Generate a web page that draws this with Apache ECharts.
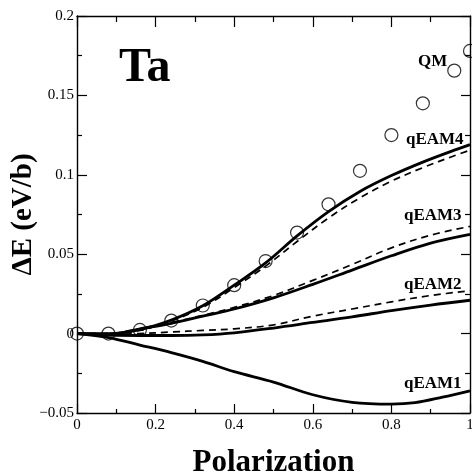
<!DOCTYPE html>
<html><head><meta charset="utf-8">
<script src="https://cdn.jsdelivr.net/npm/echarts@6/dist/echarts.min.js"></script>
<style>html,body{margin:0;padding:0;background:#fff}#c{width:472px;height:472px}</style>
</head><body><div id="c"></div>
<script>
var qmX = [0, 0.08, 0.16, 0.24, 0.32, 0.40, 0.48, 0.56, 0.64, 0.72, 0.80, 0.88, 0.96, 1.0];
var qmY = [0, 0, 0.0023, 0.0082, 0.0177, 0.0305, 0.0457, 0.0636, 0.0814, 0.1025, 0.125, 0.145, 0.1656, 0.178];

var xs4 = [0, 0.08, 0.16, 0.24, 0.32, 0.40, 0.48, 0.56, 0.64, 0.72, 0.80, 0.88, 0.96, 1.0];
var eam4Solid = [0, 0, 0.0025, 0.0085, 0.0175, 0.0305, 0.0445, 0.0615, 0.0768, 0.0895, 0.0995, 0.108, 0.1155, 0.119];
var eam4Dash  = [0, 0, 0.0020, 0.0080, 0.0165, 0.0290, 0.0425, 0.0580, 0.0728, 0.0855, 0.0960, 0.1045, 0.112, 0.1155];

var xs = [0, 0.08, 0.16, 0.24, 0.32, 0.40, 0.50, 0.60, 0.70, 0.80, 0.90, 1.0];
var eam3Solid = [0, -0.0005, 0.003, 0.0065, 0.011, 0.0155, 0.0225, 0.031, 0.040, 0.049, 0.057, 0.0625];
var eam3Dash  = [0, 0, 0.003, 0.007, 0.0115, 0.0165, 0.024, 0.0335, 0.0435, 0.054, 0.062, 0.0675];
var eam2Solid = [0, -0.001, -0.0012, -0.0012, -0.0008, 0.0005, 0.0035, 0.007, 0.0105, 0.0145, 0.018, 0.021];
var eam2Dash  = [0, -0.0005, 0, 0.001, 0.002, 0.003, 0.0055, 0.011, 0.0155, 0.020, 0.024, 0.027];

var xs1 = [0, 0.08, 0.16, 0.24, 0.32, 0.40, 0.50, 0.60, 0.70, 0.80, 0.86, 0.93, 1.0];
var eam1Solid = [0, -0.0025, -0.0072, -0.012, -0.0175, -0.024, -0.0305, -0.0385, -0.0433, -0.0444, -0.0435, -0.040, -0.036];

var yTicks = [-0.05, 0, 0.05, 0.1, 0.15, 0.2];

function pairs(x, y) { return x.map(function (v, i) { return [v, y[i]]; }); }

var serif = '"Liberation Serif", "DejaVu Serif", serif';
var chart = echarts.init(document.getElementById('c'), null, {renderer: 'canvas'});

function lineSeries(x, y, dashed) {
  return {
    type: 'line', data: pairs(x, y), showSymbol: false, smooth: 0.35,
    lineStyle: dashed ? {color: '#000', width: 1.7, type: [7, 5]} : {color: '#000', width: 2.8},
    z: 3, animation: false, silent: true
  };
}

var axisCommon = {
  axisLine: {show: true, onZero: false, lineStyle: {color: '#000', width: 1.4}},
  splitLine: {show: false}
};

chart.setOption({
  animation: false,
  grid: {left: 77, right: 2, top: 16, bottom: 59, containLabel: false, outerBoundsMode: 'none'},
  xAxis: [
    Object.assign({
      type: 'value', min: 0, max: 1, interval: 0.2, position: 'bottom',
      name: 'Polarization', nameLocation: 'middle', nameGap: 34,
      nameTextStyle: {fontFamily: serif, fontWeight: 'bold', fontSize: 31, color: '#000'},
      axisTick: {show: true, inside: true, length: 9, lineStyle: {color: '#000', width: 1.2}},
      minorTick: {show: true, splitNumber: 2, length: 4, lineStyle: {color: '#000', width: 1.2}},
      axisLabel: {fontFamily: serif, fontSize: 15, color: '#000', margin: 5,
        formatter: function (v) { return String(parseFloat(v.toFixed(2))); }}
    }, axisCommon),
    Object.assign({
      type: 'value', min: 0, max: 1, interval: 0.2, position: 'top',
      axisTick: {show: true, inside: true, length: 11, lineStyle: {color: '#000', width: 1.2}},
      minorTick: {show: true, splitNumber: 2, length: 6, lineStyle: {color: '#000', width: 1.2}},
      axisLabel: {show: false}
    }, axisCommon)
  ],
  yAxis: [
    Object.assign({
      type: 'value', min: yTicks[0], max: yTicks[yTicks.length - 1], interval: 0.05, position: 'left',
      name: 'ΔE (eV/b)', nameLocation: 'middle', nameGap: 39, nameRotate: 90, nameMoveOverlap: false,
      nameTextStyle: {fontFamily: serif, fontWeight: 'bold', fontSize: 29, color: '#000'},
      axisTick: {show: true, inside: true, length: 10, lineStyle: {color: '#000', width: 1.2}},
      minorTick: {show: true, splitNumber: 2, length: 5, lineStyle: {color: '#000', width: 1.2}},
      axisLabel: {fontFamily: serif, fontSize: 15, color: '#000', margin: 3,
        formatter: function (v) { return String(parseFloat(v.toFixed(3))).replace('-', '\u2212'); }}
    }, axisCommon),
    Object.assign({
      type: 'value', min: yTicks[0], max: yTicks[yTicks.length - 1], interval: 0.05, position: 'right',
      axisTick: {show: true, inside: true, length: 9, lineStyle: {color: '#000', width: 1.2}},
      minorTick: {show: true, splitNumber: 2, length: 5, lineStyle: {color: '#000', width: 1.2}},
      axisLabel: {show: false}
    }, axisCommon)
  ],
  series: [
    lineSeries(xs1, eam1Solid, false),
    lineSeries(xs, eam2Solid, false),
    lineSeries(xs, eam2Dash, true),
    lineSeries(xs, eam3Solid, false),
    lineSeries(xs, eam3Dash, true),
    lineSeries(xs4, eam4Solid, false),
    lineSeries(xs4, eam4Dash, true),
    {
      type: 'scatter', data: pairs(qmX, qmY), symbol: 'circle', symbolSize: 13,
      itemStyle: {color: 'rgba(0,0,0,0)', borderColor: '#000', borderWidth: 1.2},
      z: 4, silent: true
    }
  ],
  graphic: [
    {type: 'text', left: 119, top: 45, style: {text: 'Ta', font: 'bold 48px ' + serif, fill: '#000'}},
    {type: 'text', left: 418, top: 53, style: {text: 'QM', font: 'bold 17px ' + serif, fill: '#000'}},
    {type: 'text', left: 406, top: 131, style: {text: 'qEAM4', font: 'bold 17px ' + serif, fill: '#000'}},
    {type: 'text', left: 404, top: 207, style: {text: 'qEAM3', font: 'bold 17px ' + serif, fill: '#000'}},
    {type: 'text', left: 404, top: 276, style: {text: 'qEAM2', font: 'bold 17px ' + serif, fill: '#000'}},
    {type: 'text', left: 404, top: 375, style: {text: 'qEAM1', font: 'bold 17px ' + serif, fill: '#000'}}
  ]
});
</script>
</body></html>
